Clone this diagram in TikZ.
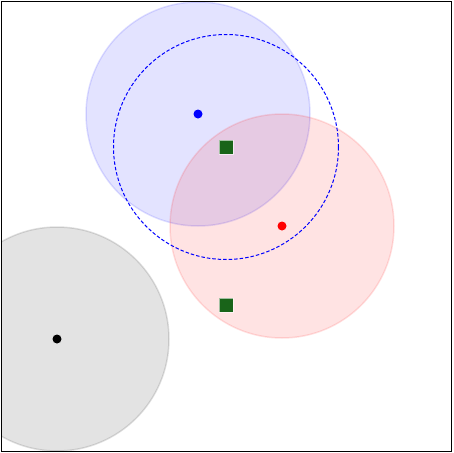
\documentclass[tikz,border=0pt]{standalone}
\usetikzlibrary{positioning}

\begin{document}
\begin{tikzpicture}[x=1pt, y=-1pt,
    zone/.style={line width=1.5pt, draw opacity=0.12, fill opacity=0.11},
    dot/.style={circle, inner sep=0pt, minimum size=9pt},
    sq/.style={rectangle, fill={rgb,255:red,25;green,100;blue,25}, draw=white, draw opacity=0.6, line width=0.4pt, inner sep=0pt, minimum size=14pt}]

    \useasboundingbox (0,0) rectangle (453,453);

    % -------------------------------
    % 区域
    % -------------------------------
    \begin{scope}
        \clip (1,1) rectangle (451,451);
        \filldraw[zone, fill=black, draw=black] (57,339) circle (112);
        \filldraw[zone, fill=blue, draw=blue] (198,114) circle (112);
        \filldraw[zone, fill=red, draw=red] (282,226) circle (112);
    \end{scope}

    % 虚线圆
    \draw[blue, line width=1pt, dash pattern=on 3.5pt off 2pt] (226,147) circle (112.5);

    % 中心点
    \node[dot, fill=black] (cgray) at (57,339) {};
    \node[dot, fill=blue] (cblue) at (198,114) {};
    \node[dot, fill=red] (cred) at (282,226) {};

    % 方块
    \node[sq] (sqa) at (226,147) {};
    \node[sq] (sqb) at (226,305) {};

    % 边框
    \draw[line width=1pt] (1,1) rectangle (451,451);

\end{tikzpicture}
\end{document}
